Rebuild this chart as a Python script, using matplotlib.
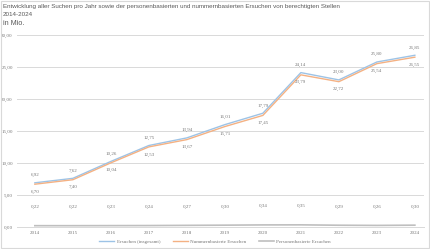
import matplotlib.pyplot as plt
from matplotlib.patches import Rectangle

years = ['2014', '2015', '2016', '2017', '2018', '2019', '2020', '2021', '2022', '2023', '2024']
total = [6.92, 7.62, 10.26, 12.75, 13.94, 16.01, 17.79, 24.14, 23.00, 25.80, 26.85]
nummer = [6.70, 7.40, 10.04, 12.53, 13.67, 15.71, 17.45, 23.79, 22.72, 25.54, 26.55]
person = [0.22, 0.22, 0.23, 0.24, 0.27, 0.30, 0.34, 0.35, 0.29, 0.26, 0.30]

c_blue = '#9DC3E6'
c_orange = '#F4B183'
c_gray = '#BFBFBF'
txt = '#767676'
serif = 'Liberation Serif'
sans = 'Liberation Sans'

def de(v):
    return f"{v:.2f}".replace('.', ',')

fig = plt.figure(figsize=(4.3, 2.49), dpi=100)
fig.patches.append(Rectangle((0.003, 0.004), 0.994, 0.992, transform=fig.transFigure,
                             fill=False, edgecolor='#D9D9D9', linewidth=0.8))

ax = fig.add_axes([0.0395, 0.088, 0.9465, 0.771])
x = list(range(len(years)))

ax.plot(x, total, color=c_blue, lw=1.0, label='Ersuchen (insgesamt)', zorder=3)
ax.plot(x, nummer, color=c_orange, lw=1.0, label='Nummernbasierte Ersuchen', zorder=3)
ax.plot(x, person, color=c_gray, lw=1.2, label='Personenbasierte Ersuchen', zorder=3)

for i in x:
    ax.annotate(de(total[i]), (i, total[i]), xytext=(0, 4), textcoords='offset points',
                ha='center', va='bottom', fontsize=3.6, color=txt, family=serif)
    ax.annotate(de(nummer[i]), (i, nummer[i]), xytext=(0, -4), textcoords='offset points',
                ha='center', va='top', fontsize=3.6, color=txt, family=serif)
    ax.annotate(de(person[i]), (i, person[i]), xytext=(0, 12), textcoords='offset points',
                ha='center', va='bottom', fontsize=3.6, color=txt, family=serif)

ax.set_ylim(0, 30)
ax.set_yticks([0, 5, 10, 15, 20, 25, 30])
ax.set_yticklabels([de(v) for v in [0, 5, 10, 15, 20, 25, 30]], family=serif)
ax.set_xlim(-0.47, 10.24)
ax.set_xticks(x)
ax.set_xticklabels(years, family=serif)
ax.tick_params(axis='both', length=0, labelsize=3.6, labelcolor=txt, pad=3)
ax.grid(axis='y', color='#D9D9D9', lw=0.7)
ax.set_axisbelow(True)
for s in ['top', 'right', 'left']:
    ax.spines[s].set_visible(False)
ax.spines['bottom'].set_color('#D9D9D9')
ax.spines['bottom'].set_linewidth(0.7)

fig.text(0.007, 0.972, 'Entwicklung aller Suchen pro Jahr sowie der personenbasierten und nummernbasierten Ersuchen von berechtigten Stellen',
         fontsize=4.5, color='#595959', family=sans, va='center')
fig.text(0.007, 0.941, '2014-2024', fontsize=4.5, color='#595959', family=sans, va='center')
fig.text(0.007, 0.906, 'in Mio.', fontsize=5.2, color='#595959', family=sans, va='center')

leg = fig.legend(loc='center', bbox_to_anchor=(0.5, 0.03), ncol=3, frameon=False,
                 fontsize=3.6, handlelength=3, columnspacing=2.5, handletextpad=0.5)
for t in leg.get_texts():
    t.set_color(txt)
    t.set_family(serif)

fig.savefig('out.png', dpi=100)
